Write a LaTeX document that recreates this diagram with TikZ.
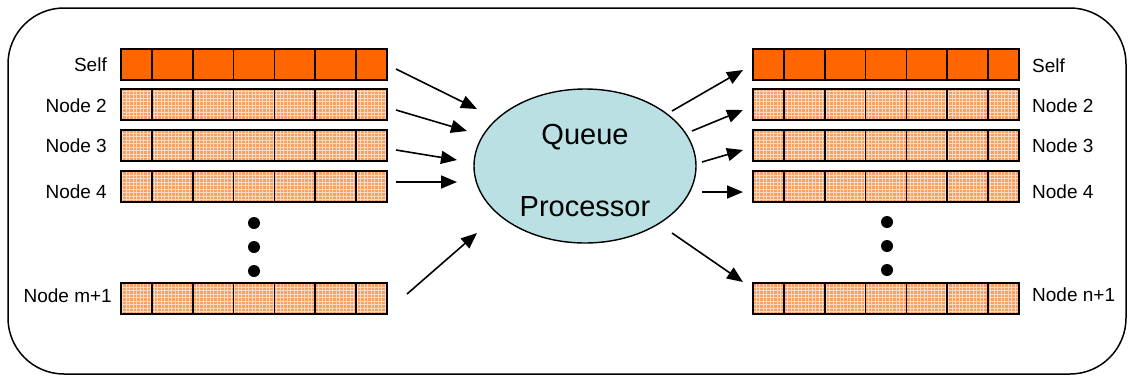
\documentclass[tikz,border=0pt]{standalone}
\usepackage{fontspec}
\setmainfont{Liberation Sans}
\usetikzlibrary{arrows.meta}
\definecolor{qorange}{RGB}{255,102,0}
\definecolor{qlight}{RGB}{246,160,100}
\definecolor{qblue}{RGB}{186,224,228}
\tikzset{
  arr/.style={line width=1.6pt,-{Triangle[length=16pt,width=13pt]}},
  lbl/.style={font=\fontsize{19}{22}\selectfont, inner sep=0pt},
  big/.style={font=\fontsize{29}{32}\selectfont, inner sep=0pt},
  dotn/.style={circle, fill=black, minimum size=12pt, inner sep=0pt},
  barbox/.style={minimum width=266pt, minimum height=31pt, inner sep=0pt, outer sep=0pt, anchor=north west, draw=none},
  barline/.style={line width=1.6pt, draw=black},
  frame/.style={line width=1.5pt, draw=black, rounded corners=56pt},
  texture/.style={white, opacity=0.6, line width=0.7pt},
}
\newcommand\qbar[5]{%
  \node[barbox, fill=#4] (#1) at (#2,#3) {};
  \ifnum#5=1
    \begin{scope}
      \clip (#1.south west) rectangle (#1.north east);
      \draw[texture, step=3.5pt] (#1.south west) grid (#1.north east);
    \end{scope}
  \fi
  \draw[barline] (#1.south west) rectangle (#1.north east);
  \foreach \d in {31,71.8,112.6,153.4,194.2,235}{%
    \draw[barline] ([xshift=\d pt]#1.north west) -- ([xshift=\d pt]#1.south west);}
}
\begin{document}
\begin{tikzpicture}[x=1pt,y=-1pt]
\useasboundingbox (0,0) rectangle (1128,376);
\draw[frame] (8,8) rectangle (1126,374);

% left bars
\qbar{lq1}{121}{49}{qorange}{0}
\qbar{lq2}{121}{89}{qlight}{1}
\qbar{lq3}{121}{130}{qlight}{1}
\qbar{lq4}{121}{171}{qlight}{1}
\qbar{lq5}{121}{283}{qlight}{1}
% right bars
\qbar{rq1}{753}{49}{qorange}{0}
\qbar{rq2}{753}{89}{qlight}{1}
\qbar{rq3}{753}{130}{qlight}{1}
\qbar{rq4}{753}{171}{qlight}{1}
\qbar{rq5}{753}{283}{qlight}{1}

% labels
\node[lbl, anchor=east] (ll1) at (107,65) {Self};
\node[lbl, anchor=east] (ll2) at (107,106) {Node 2};
\node[lbl, anchor=east] (ll3) at (107,146) {Node 3};
\node[lbl, anchor=east] (ll4) at (107,192) {Node 4};
\node[lbl, anchor=east] (ll5) at (112,296) {Node m+1};
\node[lbl, anchor=west] (rl1) at (1032,66) {Self};
\node[lbl, anchor=west] (rl2) at (1032,106) {Node 2};
\node[lbl, anchor=west] (rl3) at (1032,146) {Node 3};
\node[lbl, anchor=west] (rl4) at (1032,192) {Node 4};
\node[lbl, anchor=west] (rl5) at (1032,295) {Node n+1};

% dots
\node[dotn] (ld1) at (254,223) {};
\node[dotn] (ld2) at (254,247) {};
\node[dotn] (ld3) at (254,271) {};
\node[dotn] (rd1) at (887,222) {};
\node[dotn] (rd2) at (887,246) {};
\node[dotn] (rd3) at (887,270) {};

% processor
\draw[line width=1.4pt, fill=qblue] (585,166) ellipse [x radius=111, y radius=77];
\node[big] (qp1) at (585,137) {Queue};
\node[big] (qp2) at (585,207) {Processor};

% arrow end points
\coordinate (a1s) at (396,69);  \coordinate (a1e) at (477,109);
\coordinate (a2s) at (396,110); \coordinate (a2e) at (467,131);
\coordinate (a3s) at (396,150); \coordinate (a3e) at (457,160);
\coordinate (a4s) at (396,182); \coordinate (a4e) at (457,182);
\coordinate (a5s) at (407,294); \coordinate (a5e) at (477,233);
\coordinate (b1s) at (672,111); \coordinate (b1e) at (743,70);
\coordinate (b2s) at (692,131); \coordinate (b2e) at (743,110);
\coordinate (b3s) at (702,162); \coordinate (b3e) at (743,150);
\coordinate (b4s) at (702,192); \coordinate (b4e) at (743,192);
\coordinate (b5s) at (672,233); \coordinate (b5e) at (743,282);
\foreach \n in {a1,a2,a3,a4,a5,b1,b2,b3,b4,b5}{\draw[arr] (\n s) -- (\n e);}
\end{tikzpicture}
\end{document}
